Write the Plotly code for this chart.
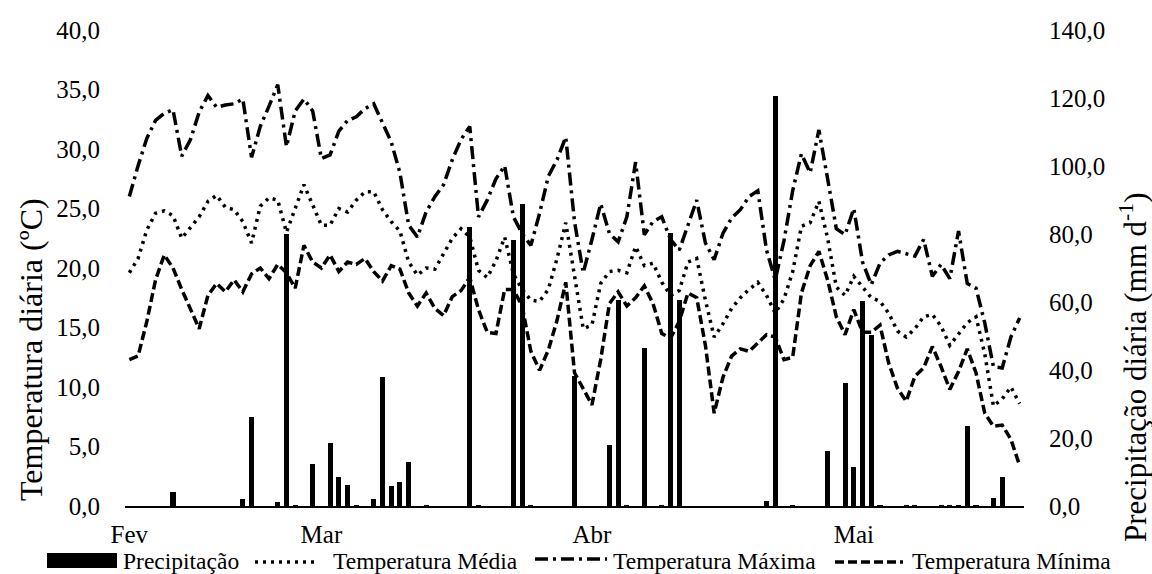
import pandas as pd
import plotly.graph_objects as go

# Daily dates (8 Feb - 20 May 2016)
dates = pd.date_range("2016-02-08", periods=103, freq="D")

month_ticks = ["2016-02-08", "2016-03-01", "2016-04-01", "2016-05-01"]
month_labels = ["Fev", "Mar", "Abr", "Mai"]

temp_max = [26.0, 28.6, 30.9, 32.4, 33.0, 33.3, 29.4, 30.8, 33.1, 34.5,
            33.5, 33.7, 33.8, 34.2, 29.3, 31.9, 33.6, 35.4, 30.2, 33.2,
            34.2, 33.2, 29.2, 29.5, 31.5, 32.4, 32.7, 33.4, 33.8, 32.2,
            30.6, 28.0, 23.6, 22.6, 24.7, 26.0, 27.0, 29.1, 30.8, 31.9,
            24.3, 25.7, 27.5, 28.6, 24.3, 22.9, 21.9, 24.6, 27.7, 29.1,
            31.0, 23.9, 19.6, 22.4, 25.4, 22.9, 22.2, 24.3, 28.9, 22.8,
            23.9, 24.3, 22.4, 21.5, 23.6, 25.7, 22.1, 20.7, 22.9, 24.2,
            24.9, 26.0, 26.5, 21.5, 19.0, 22.3, 26.5, 29.6, 28.0, 31.6,
            27.5, 23.3, 22.8, 25.0, 20.5, 18.6, 20.4, 21.1, 21.4, 21.2,
            21.0, 22.4, 19.3, 20.3, 19.1, 23.1, 18.7, 18.3, 15.4, 11.7,
            11.6, 14.2, 15.8]

temp_media = [19.6, 20.8, 23.2, 24.6, 24.8, 24.4, 22.5, 23.4, 24.3, 25.6,
              26.1, 25.1, 24.9, 23.9, 22.1, 25.2, 25.9, 25.7, 23.0, 25.0,
              27.0, 25.3, 23.6, 23.6, 25.0, 24.7, 25.7, 26.4, 26.4, 24.9,
              23.9, 23.1, 20.5, 19.4, 20.0, 19.9, 21.2, 22.5, 23.3, 22.6,
              19.8, 19.2, 20.6, 22.6, 19.5, 18.2, 17.3, 17.2, 18.2, 20.8,
              23.8, 19.5, 14.9, 15.2, 18.7, 19.7, 19.8, 19.6, 21.8, 20.2,
              20.4, 18.8, 17.7, 18.1, 20.5, 20.8, 17.3, 14.2, 15.3, 16.6,
              17.5, 18.2, 18.8, 17.7, 16.2, 17.4, 19.7, 23.5, 23.8, 25.6,
              22.5, 18.4, 17.7, 19.3, 18.4, 17.5, 17.2, 16.2, 14.7, 14.2,
              14.9, 15.9, 16.1, 15.1, 13.5, 14.5, 15.4, 15.9, 12.8, 8.4,
              9.0, 10.0, 8.6]

temp_min = [12.3, 12.6, 15.5, 19.0, 21.1, 20.0, 18.2, 16.6, 14.9, 17.7,
            18.7, 18.0, 19.0, 18.0, 19.5, 20.0, 19.1, 20.3, 19.6, 18.3,
            21.9, 20.5, 20.0, 21.1, 19.7, 20.5, 20.3, 20.8, 19.7, 18.9,
            20.2, 19.9, 17.9, 16.8, 17.9, 16.6, 16.0, 17.6, 18.1, 19.2,
            16.5, 14.6, 14.5, 18.2, 18.2, 16.8, 13.0, 11.4, 13.1, 15.6,
            18.8, 11.2, 9.8, 8.5, 12.3, 17.0, 18.0, 16.8, 17.5, 18.5,
            17.0, 14.5, 14.1, 15.5, 17.9, 17.5, 13.5, 7.8, 10.8, 12.6,
            13.2, 13.0, 13.7, 14.4, 14.2, 12.3, 12.5, 17.9, 20.2, 21.4,
            19.0, 15.9, 14.4, 16.5, 14.6, 14.6, 15.2, 12.0, 9.9, 8.8,
            10.9, 11.6, 13.4, 11.7, 9.8, 11.3, 13.2, 11.2, 7.8, 6.7,
            6.8, 5.6, 3.4]

precip = [0, 0, 0, 0, 0, 4.1, 0, 0, 0, 0,
          0, 0, 0, 2.0, 26.3, 0, 0, 1.1, 80.0, 0.4,
          0, 12.5, 0, 18.5, 8.4, 6.2, 0.3, 0, 2.0, 37.9,
          6.0, 7.0, 13.0, 0, 0.3, 0, 0, 0, 0, 82.2,
          0.4, 0, 0, 0, 78.3, 88.8, 0.3, 0, 0, 0,
          0, 38.1, 0, 0, 0, 17.9, 60.6, 0.3, 0, 46.5,
          0, 0.2, 80.4, 60.6, 0, 0, 0, 0, 0, 0,
          0, 0, 0, 1.5, 120.6, 0, 0.3, 0, 0, 0,
          16.3, 0, 36.2, 11.4, 60.4, 50.4, 0.3, 0, 0, 0.2,
          0.2, 0, 0, 0.2, 0.2, 0.2, 23.4, 0.3, 0, 2.3,
          8.6, 0, 0]

series_names = ["Precipitação", "Temperatura Média", "Temperatura Máxima", "Temperatura Mínima"]

FONT = "Liberation Serif"
DAY_MS = 86400000
W, H = 1152, 574
ML, MR, MT, MB = 125, 128, 30, 68
PW, PH = W - ML - MR, H - MT - MB

DASH_MEDIA = "3px,5px"
DASH_MAX = "13px,5px,3px,5px"
DASH_MIN = "9px,4px"
LW = 3.5


def px_x(px):
    return (px - ML) / PW


def px_y(py):
    return (H - MB - py) / PH


fig = go.Figure()
fig.add_trace(go.Bar(x=dates, y=precip, name=series_names[0], yaxis="y2",
                     marker=dict(color="black", line=dict(width=0)),
                     width=0.58 * DAY_MS))
fig.add_trace(go.Scatter(x=dates, y=temp_media, name=series_names[1],
                         mode="lines", line=dict(color="black", width=LW, dash=DASH_MEDIA)))
fig.add_trace(go.Scatter(x=dates, y=temp_max, name=series_names[2],
                         mode="lines", line=dict(color="black", width=LW, dash=DASH_MAX)))
fig.add_trace(go.Scatter(x=dates, y=temp_min, name=series_names[3],
                         mode="lines", line=dict(color="black", width=LW, dash=DASH_MIN)))

# Legend drawn as a single row below the axis (Excel-style long samples)
LEG_Y = 561
shapes = [
    dict(type="rect", xref="paper", yref="paper", x0=px_x(47), x1=px_x(117),
         y0=px_y(568), y1=px_y(553), fillcolor="black", line=dict(width=0)),
    dict(type="line", xref="paper", yref="paper", x0=px_x(255), x1=px_x(318),
         y0=px_y(562), y1=px_y(562), line=dict(color="black", width=LW, dash=DASH_MEDIA)),
    dict(type="line", xref="paper", yref="paper", x0=px_x(535), x1=px_x(607),
         y0=px_y(559), y1=px_y(559), line=dict(color="black", width=LW, dash=DASH_MAX)),
    dict(type="line", xref="paper", yref="paper", x0=px_x(835), x1=px_x(903),
         y0=px_y(562), y1=px_y(562), line=dict(color="black", width=LW, dash=DASH_MIN)),
]
legend_text_x = [122, 332, 612, 911]
annotations = [
    dict(text=name, xref="paper", yref="paper", x=px_x(lx), y=px_y(LEG_Y),
         xanchor="left", yanchor="middle", showarrow=False, borderpad=0,
         font=dict(family=FONT, size=23.5, color="black"))
    for name, lx in zip(series_names, legend_text_x)
]
# Axis titles (placed like the original, lower than the plot centre)
annotations.append(dict(text="Temperatura diária (ºC)", xref="paper", yref="paper",
                        x=px_x(31), y=px_y(350), xanchor="center", yanchor="middle",
                        textangle=-90, showarrow=False, borderpad=0,
                        font=dict(family=FONT, size=32, color="black")))
annotations.append(dict(text="Precipitação diária (mm d<sup>-1</sup>)", xref="paper", yref="paper",
                        x=px_x(1134), y=px_y(368), xanchor="center", yanchor="middle",
                        textangle=-90, showarrow=False, borderpad=0,
                        font=dict(family=FONT, size=31, color="black")))

fig.update_layout(
    width=W, height=H,
    margin=dict(l=ML, r=MR, t=MT, b=MB, autoexpand=False),
    paper_bgcolor="white", plot_bgcolor="white",
    font=dict(family=FONT, size=25, color="black"),
    separators=",.",
    showlegend=False,
    shapes=shapes,
    annotations=annotations,
    xaxis=dict(type="date", range=["2016-02-07 12:00", "2016-05-20 12:00"],
               tickvals=month_ticks, ticktext=month_labels, ticks="",
               showgrid=False, zeroline=False, showline=True, linecolor="black", linewidth=2,
               ticklabelstandoff=5, automargin=False),
    yaxis=dict(range=[0, 40], dtick=5, tick0=0, tickformat=".1f", showgrid=False,
               zeroline=False, showline=False, ticks="", ticklabelstandoff=24,
               automargin=False),
    yaxis2=dict(range=[0, 140], dtick=20, tick0=0, tickformat=".1f", overlaying="y",
                side="right", showgrid=False, zeroline=False, showline=False, ticks="",
                ticklabelstandoff=24, automargin=False),
    bargap=0,
)

fig.write_html("out.html", config={"displayModeBar": False, "staticPlot": True})
